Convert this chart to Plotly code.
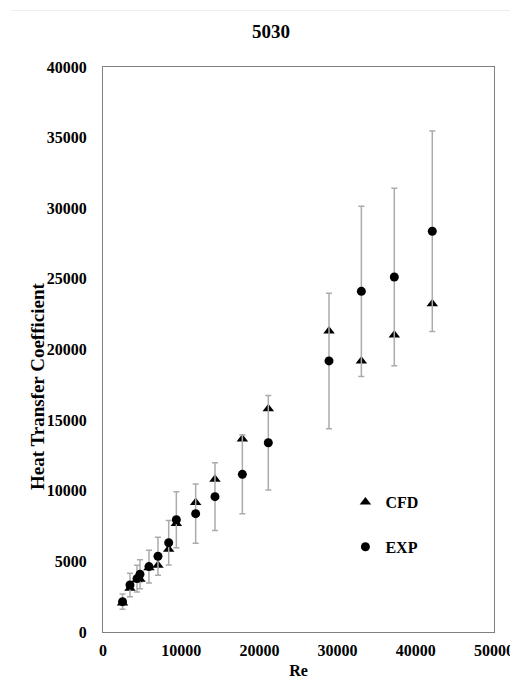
import plotly.graph_objects as go

re_vals = [2500, 3450, 4350, 4730, 5880, 7030, 8400, 9380, 11850, 14320, 17820, 21140, 28900, 33040, 37250, 42110]
exp_vals = [2150, 3330, 3780, 4090, 4630, 5360, 6320, 7950, 8380, 9580, 11160, 13400, 19190, 24120, 25130, 28370]
cfd_vals = [2050, 3090, 3700, 3730, 4550, 4720, 5850, 7690, 9160, 10810, 13660, 15810, 21310, 19190, 21030, 23240]
err_percent = 25

title_text = "5030"
x_title = "Re"
y_title = "Heat Transfer Coefficient"
x_ticks = [0, 10000, 20000, 30000, 40000, 50000]
y_ticks = [0, 5000, 10000, 15000, 20000, 25000, 30000, 35000, 40000]

font_family = "Liberation Serif, Times New Roman, serif"

# the page body has an 8px default margin; size the figure to fit the window
OFF = 8
W, H = 518 - OFF, 686 - OFF
ML, MR, MT, MB = 103 - OFF, 24, 67 - OFF, 54
PW, PH = W - ML - MR, H - MT - MB

fig = go.Figure()
fig.add_trace(go.Scatter(
    x=re_vals, y=cfd_vals, mode="markers", name="<b>CFD</b>",
    legendgroup="cfd",
    marker=dict(symbol="triangle-up", size=10, color="black"),
))
fig.add_trace(go.Scatter(
    x=re_vals, y=exp_vals, mode="markers", name="<b>EXP</b>",
    legendgroup="exp",
    marker=dict(symbol="circle", size=9, color="black"),
    error_y=dict(type="percent", value=err_percent, color="#ABABAB", thickness=1.5, width=3),
))

fig.update_layout(
    width=W, height=H,
    margin=dict(l=ML, r=MR, t=MT, b=MB, autoexpand=False),
    paper_bgcolor="white", plot_bgcolor="white",
    font=dict(family=font_family, color="black", size=16),
    title=dict(text="<b>" + title_text + "</b>", x=(271 - OFF) / W, xanchor="center",
               y=1 - (31 - OFF) / H, yanchor="middle",
               font=dict(size=19, family=font_family)),
    showlegend=True,
    legend=dict(x=0.62, xanchor="left", y=0.26, yanchor="top", traceorder="grouped",
                tracegroupgap=21, bgcolor="rgba(0,0,0,0)", font=dict(size=16, family=font_family),
                itemwidth=30),
    shapes=[dict(type="line", xref="paper", yref="paper", x0=(11 - 103) / PW, x1=(W - ML) / PW,
                 y0=(632 - 10.5) / PH, y1=(632 - 10.5) / PH,
                 line=dict(color="#EEEEEE", width=1))],
    annotations=[dict(text="<b>" + y_title + "</b>", textangle=-90, xref="paper", yref="paper",
                      x=(37 - 103) / PW, y=(632 - 386) / PH, xanchor="center", yanchor="middle",
                      showarrow=False, font=dict(size=19, family=font_family))],
)
fig.update_xaxes(
    range=[0, 50000], tickvals=x_ticks, ticktext=["<b>%d</b>" % v for v in x_ticks],
    showgrid=False, zeroline=False, showline=True, linecolor="#808080", linewidth=1, mirror=True,
    ticks="", ticklabelstandoff=4, automargin=False,
    title=dict(text="<b>" + x_title + "</b>", standoff=6, font=dict(size=16)),
)
fig.update_yaxes(
    range=[0, 40000], tickvals=y_ticks, ticktext=["<b>%d</b>" % v for v in y_ticks],
    showgrid=False, zeroline=False, showline=True, linecolor="#808080", linewidth=1, mirror=True,
    ticks="", ticklabelstandoff=12, automargin=False,
)

fig.write_html("out.html")
